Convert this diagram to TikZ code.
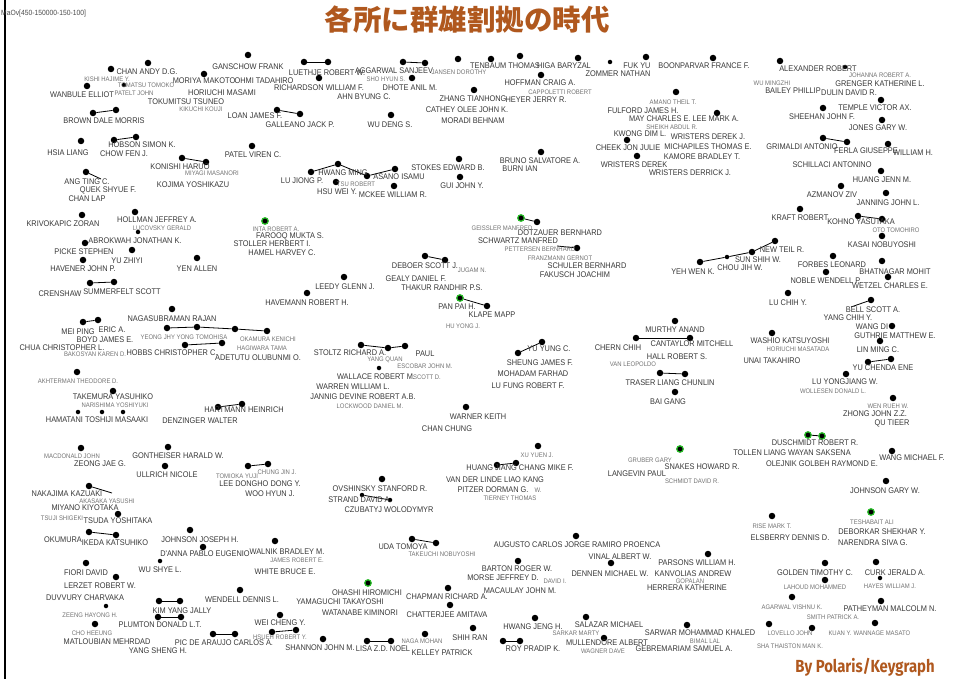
\documentclass[tikz,border=0pt]{standalone}
\usepackage{fontspec}
\newfontfamily\lbf[FakeStretch=0.9]{Liberation Sans}
\newfontfamily\cjk{Noto Sans CJK JP}
\newfontfamily\credf[FakeStretch=0.85]{Fira Sans}
\newcommand\lbfont{\lbf\fontsize{8.2}{9}\selectfont}
\newcommand\slbfont{\lbf\fontsize{6.6}{7}\selectfont}
\definecolor{titlebrown}{RGB}{176,88,30}
\definecolor{dotgreen}{RGB}{40,190,40}
\newcounter{lc}
\newcommand\dt[3]{\node[dot] (#1) at (#2,#3) {};}
\newcommand\sd[3]{\node[sdot] (#1) at (#2,#3) {};}
\newcommand\gd[3]{\node[gdot] (#1) at (#2,#3) {};}
\newcommand\lab[3]{\stepcounter{lc}\node[lbl] (t\arabic{lc}) at (#1,#2) {#3};}
\newcommand\slab[3]{\stepcounter{lc}\node[slbl] (t\arabic{lc}) at (#1,#2) {#3};}
\tikzset{
 dot/.style={circle,fill=black,inner sep=0pt,minimum size=6.5pt},
 sdot/.style={circle,fill=black,inner sep=0pt,minimum size=4.5pt},
 gdot/.style={circle,fill=black,draw=dotgreen,line width=1.2pt,inner sep=0pt,minimum size=6.5pt},
 lbl/.style={font=\lbfont,text=black!78,inner sep=0pt},
 slbl/.style={font=\slbfont,text=black!55,inner sep=0pt},
 link/.style={draw=black,line width=0.8pt}
}
\begin{document}
\begin{tikzpicture}[x=1pt,y=-1pt]
\useasboundingbox (0,0) rectangle (953,679);
\fill[white] (0,0) rectangle (953,679);
\draw[line width=2pt] (5,0) -- (5,679);
\node[anchor=west,font=\lbf\fontsize{7.5}{8}\selectfont,text=black!70,inner sep=0pt] (hdr) at (1,14) {MaOv[450-150000-150-100]};
\node[font=\cjk\bfseries\fontsize{28.5}{30}\selectfont,text=titlebrown,inner sep=0pt] (title) at (467,20) {各所に群雄割拠の時代};
\node[font=\credf\bfseries\fontsize{17.5}{19}\selectfont,text=titlebrown,inner sep=0pt] (credit) at (865,667) {By Polaris/Keygraph};
% ---------- dots ----------
\dt{a1}{148}{63}\dt{a2}{111}{69}\dt{a3}{87}{86}\sd{a4}{124}{85}\dt{a5}{204}{74}
\dt{a6}{93}{113}\dt{a7}{116}{110}\dt{a8}{81}{141}\dt{a9}{114}{140}\dt{a10}{136}{137}
\dt{a11}{182}{158}\dt{a12}{206}{162}\dt{a13}{86}{172}\dt{a14}{82}{215}\dt{a15}{135}{212}
\sd{a16}{138}{232}\dt{a17}{85}{243}\dt{a18}{132}{250}\dt{a19}{252}{146}
\dt{b1}{248}{55}\dt{b2}{304}{62}\dt{b3}{328}{62}\dt{b4}{319}{78}\dt{b5}{403}{62}
\dt{b6}{425}{63}\dt{b7}{412}{78}\dt{b8}{458}{59}\dt{b9}{474}{90}\dt{b10}{277}{110}
\dt{b11}{300}{114}\dt{b12}{391}{115}\dt{b13}{338}{164}\dt{b14}{311}{172}\dt{b15}{367}{176}
\dt{b16}{395}{169}\dt{b17}{336}{182}\dt{b18}{394}{186}\dt{b19}{459}{159}\dt{b20}{460}{177}
\gd{b21}{265}{221}
\dt{c1}{491}{59}\dt{c2}{520}{56}\dt{c3}{578}{58}\sd{c4}{610}{62}\dt{c5}{646}{57}
\dt{c6}{713}{58}\dt{c7}{541}{75}\dt{c8}{676}{92}\dt{c9}{717}{113}\dt{c10}{627}{140}
\dt{c11}{637}{156}\dt{c12}{541}{152}\gd{c13}{521}{218}\dt{c14}{537}{222}\dt{c15}{577}{248}
\dt{e1}{780}{61}\sd{e2}{845}{67}\dt{e3}{881}{100}\dt{e4}{823}{108}\dt{e5}{882}{120}
\dt{e6}{823}{138}\dt{e7}{847}{142}\dt{e8}{888}{144}\dt{e9}{881}{171}\dt{e10}{841}{186}
\dt{e11}{886}{193}\dt{e12}{800}{209}\dt{e13}{858}{216}\dt{e14}{882}{219}\dt{e15}{882}{236}
\dt{e16}{775}{241}
\dt{f1}{83}{260}\dt{f2}{197}{258}\dt{f3}{90}{283}\dt{f4}{114}{282}\dt{f5}{172}{309}
\dt{f6}{83}{322}\dt{f7}{98}{320}\dt{f8}{167}{328}\dt{f9}{197}{327}\dt{f10}{235}{329}
\dt{f11}{185}{345}\dt{f12}{222}{343}\dt{f13}{77}{372}\dt{f14}{113}{391}\sd{f15}{78}{412}
\sd{f16}{102}{412}\sd{f17}{123}{412}\dt{f18}{218}{407}\dt{f19}{242}{404}\dt{f20}{81}{448}
\dt{f21}{168}{447}
\dt{g1}{425}{256}\dt{g2}{445}{260}\dt{g3}{344}{277}\dt{g4}{307}{293}\gd{g5}{460}{298}
\dt{g6}{267}{331}\dt{g7}{361}{345}\dt{g8}{388}{348}\dt{g9}{405}{346}\sd{g10}{379}{368}
\dt{g11}{466}{407}
\dt{h1}{700}{262}\sd{h2}{727}{257}\dt{h3}{752}{252}\dt{h4}{487}{306}\dt{h5}{542}{342}
\dt{h6}{518}{353}\dt{h7}{675}{321}\dt{h8}{636}{338}\dt{h9}{690}{338}\dt{h10}{660}{373}
\dt{h11}{685}{374}\dt{h12}{675}{392}\dt{h13}{538}{446}\gd{h14}{680}{449}
\dt{i1}{833}{256}\dt{i2}{882}{261}\dt{i3}{826}{272}\dt{i4}{888}{277}\dt{i5}{788}{293}
\dt{i6}{871}{300}\dt{i7}{892}{326}\dt{i8}{880}{341}\dt{i9}{868}{362}\dt{i10}{891}{359}
\dt{i11}{846}{374}\dt{i12}{772}{333}\dt{i13}{893}{398}\gd{i14}{808}{435}\gd{i15}{822}{436}
\dt{i16}{892}{451}
\dt{j1}{165}{466}\dt{j2}{89}{486}\dt{j3}{118}{514}\dt{j4}{89}{532}\dt{j5}{116}{535}
\dt{j6}{190}{530}\dt{j7}{203}{547}\sd{j8}{160}{561}\dt{j9}{86}{563}\dt{j10}{116}{577}
\sd{j11}{106}{606}\dt{j12}{159}{601}\dt{j13}{180}{601}\dt{j14}{158}{617}\dt{j15}{181}{617}
\dt{j16}{95}{624}\dt{j17}{213}{634}\dt{j18}{235}{634}\dt{j19}{240}{590}
\dt{k1}{248}{466}\dt{k2}{268}{464}\dt{k3}{382}{479}\sd{k4}{362}{495}\sd{k5}{390}{500}
\dt{k6}{412}{539}\dt{k7}{436}{543}\dt{k8}{275}{541}\gd{k9}{368}{583}\dt{k10}{448}{588}
\dt{k11}{450}{605}\dt{k12}{280}{615}\dt{k13}{272}{632}\dt{k14}{296}{630}\dt{k15}{323}{639}
\dt{k16}{367}{641}\dt{k17}{391}{641}\dt{k18}{425}{634}\dt{k19}{473}{628}
\dt{m1}{497}{465}\dt{m2}{516}{463}\dt{m3}{576}{536}\dt{m4}{611}{563}\dt{m5}{518}{561}
\dt{m6}{708}{554}\dt{m7}{535}{618}\dt{m8}{586}{617}\dt{m9}{687}{625}\dt{m10}{520}{641}
\dt{m11}{503}{641}\dt{m12}{604}{638}
\dt{n1}{886}{481}\dt{n2}{772}{516}\gd{n3}{871}{512}\dt{n4}{825}{563}\dt{n5}{876}{562}
\dt{n6}{825}{580}\sd{n7}{880}{578}\dt{n8}{792}{597}\dt{n9}{881}{601}\dt{n10}{769}{624}
\dt{n11}{812}{628}\dt{n12}{875}{623}
\coordinate (x1) at (112,493);
\coordinate (x2) at (101,179);
\coordinate (x3) at (557,246);
\coordinate (x4) at (851,307);
% ---------- links ----------
\foreach \p/\q in {a6/a7,a9/a10,a11/a12,b2/b3,b10/b11,b13/b14,b13/b15,b15/b16,b5/b6,
 e6/e7,e13/e14,f3/f4,f6/f7,f8/f9,f9/f10,f10/g6,f11/f12,f18/f19,g1/g2,g7/g8,g8/g9,
 c13/c14,c15/x3,h5/h6,h8/h9,h10/h11,i9/i10,i14/i15,j4/j5,j12/j13,j14/j15,j17/j18,
 k1/k2,k4/k5,k6/k7,k13/k14,k16/k17,m1/m2,m10/m11,h1/h2,h2/h3,h3/e16,j2/x1,a13/x2,
 g5/h4,i6/x4}
 \draw[link] (\p) -- (\q);
% ---------- labels: upper left ----------
\lab{147}{72}{CHAN ANDY D.G.}
\slab{107}{79}{KISHI HAJIME Y.}
\lab{82}{95}{WANBULE ELLIOT}
\slab{134}{93}{PATELT JOHN}
\slab{146}{85}{TOMATSU TOMOKO}
\lab{204}{81}{MORIYA MAKOTO}
\lab{222}{93}{HORIUCHI MASAMI}
\lab{186}{102}{TOKUMITSU TSUNEO}
\slab{201}{109}{KIKUCHI KOUJI}
\lab{104}{121}{BROWN DALE MORRIS}
\lab{68}{153}{HSIA LIANG}
\lab{124}{154}{CHOW FEN J.}
\lab{142}{145}{HOBSON SIMON K.}
\lab{180}{167}{KONISHI HARUO}
\slab{212}{173}{MIYAGI MASANORI}
\lab{193}{185}{KOJIMA YOSHIKAZU}
\lab{87}{182}{ANG TING C.}
\lab{108}{190}{QUEK SHYUE F.}
\lab{87}{199}{CHAN LAP}
\lab{63}{224}{KRIVOKAPIC ZORAN}
\lab{157}{220}{HOLLMAN JEFFREY A.}
\slab{162}{228}{LUCOVSKY GERALD}
\lab{135}{241}{ABROKWAH JONATHAN K.}
\lab{84}{252}{PICKE STEPHEN}
\lab{253}{155}{PATEL VIREN C.}
% ---------- upper middle ----------
\lab{248}{67}{GANSCHOW FRANK}
\lab{327}{73}{LUETHJE ROBERT W.}
\lab{264}{81}{OHMI TADAHIRO}
\slab{386}{79}{SHO HYUN S.}
\lab{319}{88}{RICHARDSON WILLIAM F.}
\lab{394}{71}{AGGARWAL SANJEEV}
\lab{410}{88}{DHOTE ANIL M.}
\slab{459}{72}{JANSEN DOROTHY}
\lab{364}{97}{AHN BYUNG C.}
\lab{473}{99}{ZHANG TIANHONG}
\lab{467}{110}{CATHEY OLEE JOHN K.}
\lab{473}{121}{MORADI BEHNAM}
\lab{255}{116}{LOAN JAMES F.}
\lab{300}{125}{GALLEANO JACK P.}
\lab{390}{125}{WU DENG S.}
\lab{343}{173}{HWANG MING}
\lab{302}{181}{LU JIONG P.}
\slab{356}{184}{TSU ROBERT}
\lab{399}{177}{ASANO ISAMU}
\lab{337}{192}{HSU WEI Y.}
\lab{393}{195}{MCKEE WILLIAM R.}
\lab{448}{168}{STOKES EDWARD B.}
\lab{462}{186}{GUI JOHN Y.}
\slab{276}{229}{INTA ROBERT A.}
\lab{290}{236}{FAROOQ MUKTA S.}
\lab{272}{244}{STOLLER HERBERT I.}
\lab{282}{253}{HAMEL HARVEY C.}
% ---------- upper right-middle ----------
\lab{505}{66}{TENBAUM THOMAS}
\lab{564}{66}{HIGA BARYZAL}
\lab{618}{74}{ZOMMER NATHAN}
\lab{637}{66}{FUK YU}
\lab{704}{66}{BOONPARVAR FRANCE F.}
\lab{540}{83}{HOFFMAN CRAIG A.}
\slab{560}{92}{CAPPOLETTI ROBERT}
\lab{536}{100}{HEYER JERRY R.}
\slab{673}{102}{AMANO THEIL T.}
\lab{643}{111}{FULFORD JAMES H.}
\lab{684}{119}{MAY CHARLES E. LEE MARK A.}
\slab{672}{127}{SHEIKH ABDUL R.}
\lab{640}{134}{KWONG DIM L.}
\lab{708}{137}{WRISTERS DEREK J.}
\lab{628}{148}{CHEEK JON JULIE}
\lab{708}{147}{MICHAPILES THOMAS E.}
\lab{702}{157}{KAMORE BRADLEY T.}
\lab{634}{165}{WRISTERS DEREK}
\lab{690}{173}{WRISTERS DERRICK J.}
\lab{540}{161}{BRUNO SALVATORE A.}
\lab{520}{169}{BURN IAN}
\slab{502}{228}{GEISSLER MANFRED}
\lab{560}{233}{DOTZAUER BERNHARD}
\lab{518}{241}{SCHWARTZ MANFRED}
\slab{540}{249}{PETTERSEN BERNHARD}
% ---------- upper right ----------
\lab{818}{69}{ALEXANDER ROBERT}
\slab{880}{75}{JOHANNA ROBERT A.}
\slab{772}{83}{WU MINGZHI}
\lab{880}{84}{GRENGER KATHERINE L.}
\lab{793}{91}{BAILEY PHILLIP}
\lab{849}{93}{DULIN DAVID R.}
\lab{875}{108}{TEMPLE VICTOR AX.}
\lab{822}{117}{SHEEHAN JOHN F.}
\lab{878}{128}{JONES GARY W.}
\lab{802}{147}{GRIMALDI ANTONIO}
\lab{866}{151}{FERLA GIUSEPPE}
\lab{913}{153}{WILLIAM H.}
\lab{832}{165}{SCHILLACI ANTONINO}
\lab{882}{180}{HUANG JENN M.}
\lab{832}{195}{AZMANOV ZIV}
\lab{888}{203}{JANNING JOHN L.}
\lab{800}{218}{KRAFT ROBERT}
\lab{861}{222}{KOHNO YASUTAKA}
\slab{896}{230}{OTO TOMOHIRO}
\lab{882}{245}{KASAI NOBUYOSHI}
\lab{782}{250}{NEW TEIL R.}
% ---------- middle left ----------
\lab{127}{261}{YU ZHIYI}
\lab{83}{269}{HAVENER JOHN P.}
\lab{197}{269}{YEN ALLEN}
\lab{60}{294}{CRENSHAW}
\lab{122}{292}{SUMMERFELT SCOTT}
\lab{172}{319}{NAGASUBRAMAN RAJAN}
\lab{78}{332}{MEI PING}
\lab{112}{330}{ERIC A.}
\lab{105}{340}{BOYD JAMES E.}
\lab{62}{348}{CHUA CHRISTOPHER L.}
\slab{95}{354}{BAKOSYAN KAREN D.}
\slab{184}{337}{YEONG JHY YONG TOMOHISA}
\slab{268}{339}{OKAMURA KENICHI}
\lab{172}{353}{HOBBS CHRISTOPHER C.}
\slab{262}{348}{HAGIWARA TAMA}
\lab{258}{358}{ADETUTU OLUBUNMI O.}
\slab{78}{381}{AKHTERMAN THEODORE D.}
\lab{113}{397}{TAKEMURA YASUHIKO}
\slab{115}{405}{NARISHIMA YOSHIYUKI}
\lab{97}{420}{HAMATANI TOSHIJI MASAAKI}
\lab{244}{410}{HARTMANN HEINRICH}
\lab{200}{421}{DENZINGER WALTER}
\slab{72}{456}{MACDONALD JOHN}
\lab{178}{456}{GONTHEISER HARALD W.}
\lab{100}{464}{ZEONG JAE G.}
% ---------- centre ----------
\lab{425}{266}{DEBOER SCOTT J.}
\slab{472}{270}{JUGAM N.}
\lab{416}{279}{GEALY DANIEL F.}
\lab{442}{288}{THAKUR RANDHIR P.S.}
\lab{345}{287}{LEEDY GLENN J.}
\lab{307}{303}{HAVEMANN ROBERT H.}
\lab{457}{307}{PAN PAI H.}
\lab{492}{315}{KLAPE MAPP}
\slab{463}{326}{HU YONG J.}
\lab{350}{353}{STOLTZ RICHARD A.}
\lab{425}{354}{PAUL}
\slab{385}{360}{YANG QUAN}
\slab{425}{366}{ESCOBAR JOHN M.}
\lab{376}{377}{WALLACE ROBERT M.}
\slab{427}{377}{SCOTT D.}
\lab{353}{387}{WARREN WILLIAM L.}
\lab{363}{397}{JANNIG DEVINE ROBERT A.B.}
\slab{370}{406}{LOCKWOOD DANIEL M.}
\lab{478}{417}{WARNER KEITH}
\lab{447}{429}{CHAN CHUNG}
\slab{560}{258}{FRANZMANN GERNOT}
\lab{587}{266}{SCHULER BERNHARD}
\lab{575}{275}{FAKUSCH JOACHIM}
\lab{693}{272}{YEH WEN K.}
\lab{549}{349}{YU YUNG C.}
\lab{540}{363}{SHEUNG JAMES F.}
\lab{533}{374}{MOHADAM FARHAD}
\lab{528}{386}{LU FUNG ROBERT F.}
\lab{675}{330}{MURTHY ANAND}
\lab{618}{348}{CHERN CHIH}
\lab{692}{344}{CANTAYLOR MITCHELL}
\lab{677}{357}{HALL ROBERT S.}
\slab{633}{364}{VAN LEOPOLDO}
\lab{670}{383}{TRASER LIANG CHUNLIN}
\lab{668}{402}{BAI GANG}
\slab{537}{455}{XU YUEN J.}
% ---------- middle right ----------
\lab{758}{260}{SUN SHIH W.}
\lab{740}{268}{CHOU JIH W.}
\lab{832}{265}{FORBES LEONARD}
\lab{895}{272}{BHATNAGAR MOHIT}
\lab{826}{281}{NOBLE WENDELL P.}
\lab{890}{286}{WETZEL CHARLES E.}
\lab{788}{303}{LU CHIH Y.}
\lab{873}{310}{BELL SCOTT A.}
\lab{848}{318}{YANG CHIH Y.}
\lab{872}{327}{WANG DI}
\lab{895}{336}{GUTHRIE MATTHEW E.}
\lab{878}{350}{LIN MING C.}
\lab{883}{368}{YU CHENDA ENE}
\lab{845}{382}{LU YONGJIANG W.}
\slab{833}{391}{WOLLESEN DONALD L.}
\lab{790}{341}{WASHIO KATSUYOSHI}
\slab{798}{349}{HORIUCHI MASATADA}
\lab{772}{361}{UNAI TAKAHIRO}
\slab{888}{406}{WEN RUEH W.}
\lab{875}{414}{ZHONG JOHN Z.Z.}
\lab{892}{423}{QU TIEER}
\lab{815}{443}{DUSCHMIDT ROBERT R.}
\lab{792}{453}{TOLLEN LIANG WAYAN SAKSENA}
\lab{912}{458}{WANG MICHAEL F.}
\lab{822}{464}{OLEJNIK GOLBEH RAYMOND E.}
\slab{650}{460}{GRUBER GARY}
\lab{702}{467}{SNAKES HOWARD R.}
\lab{637}{474}{LANGEVIN PAUL}
\slab{692}{481}{SCHMIDT DAVID R.}
% ---------- lower left ----------
\lab{167}{475}{ULLRICH NICOLE}
\lab{67}{494}{NAKAJIMA KAZUAKI}
\slab{107}{501}{AKASAKA YASUSHI}
\lab{85}{508}{MIYANO KIYOTAKA}
\slab{62}{518}{TSUJI SHIGEKI}
\lab{118}{521}{TSUDA YOSHITAKA}
\lab{63}{540}{OKUMURA}
\lab{115}{543}{IKEDA KATSUHIKO}
\lab{200}{540}{JOHNSON JOSEPH H.}
\lab{205}{554}{D'ANNA PABLO EUGENIO}
\lab{160}{570}{WU SHYE L.}
\lab{86}{573}{FIORI DAVID}
\lab{100}{586}{LERZET ROBERT W.}
\lab{85}{598}{DUVVURY CHARVAKA}
\slab{90}{615}{ZEENG HAYONG H.}
\lab{182}{611}{KIM YANG JALLY}
\lab{160}{625}{PLUMTON DONALD L.T.}
\slab{92}{633}{CHO HEEUNG}
\lab{107}{642}{MATLOUBIAN MEHRDAD}
\lab{158}{651}{YANG SHENG H.}
\lab{224}{643}{PIC DE ARAUJO CARLOS A.}
\lab{242}{600}{WENDELL DENNIS L.}
% ---------- lower middle ----------
\slab{277}{472}{CHUNG JIN J.}
\slab{237}{476}{TOMIOKA YUJI}
\lab{260}{484}{LEE DONGHO DONG Y.}
\lab{270}{494}{WOO HYUN J.}
\lab{380}{489}{OVSHINSKY STANFORD R.}
\lab{360}{500}{STRAND DAVID A.}
\lab{389}{510}{CZUBATYJ WOLODYMYR}
\lab{403}{547}{UDA TOMOYA}
\slab{442}{554}{TAKEUCHI NOBUYOSHI}
\lab{287}{552}{WALNIK BRADLEY M.}
\slab{297}{560}{JAMES ROBERT E.}
\lab{285}{572}{WHITE BRUCE E.}
\lab{367}{593}{OHASHI HIROMICHI}
\lab{340}{602}{YAMAGUCHI TAKAYOSHI}
\lab{360}{613}{WATANABE KIMINORI}
\lab{447}{597}{CHAPMAN RICHARD A.}
\lab{447}{615}{CHATTERJEE AMITAVA}
\lab{280}{623}{WEI CHENG Y.}
\slab{280}{637}{HSUEH ROBERT Y.}
\lab{320}{648}{SHANNON JOHN M.}
\lab{383}{649}{LISA Z.D. NOEL}
\slab{422}{641}{NAGA MOHAN}
\lab{442}{653}{KELLEY PATRICK}
\lab{470}{638}{SHIH RAN}
\lab{520}{468}{HUANG JIANG CHANG MIKE F.}
\lab{495}{480}{VAN DER LINDE LIAO KANG}
\lab{493}{490}{PITZER DORMAN G.}
\slab{538}{490}{W.}
\slab{510}{498}{TIERNEY THOMAS}
\lab{577}{545}{AUGUSTO CARLOS JORGE RAMIRO PROENCA}
\lab{620}{557}{VINAL ALBERT W.}
\lab{610}{574}{DENNEN MICHAEL W.}
\lab{517}{569}{BARTON ROGER W.}
\lab{503}{578}{MORSE JEFFREY D.}
\slab{555}{581}{DAVID I.}
\lab{520}{591}{MACAULAY JOHN M.}
\lab{697}{563}{PARSONS WILLIAM H.}
\lab{693}{574}{KANVOLIAS ANDREW}
\slab{690}{581}{GOPALAN}
\lab{687}{588}{HERRERA KATHERINE}
\lab{533}{627}{HWANG JENG H.}
\lab{609}{625}{SALAZAR MICHAEL}
\slab{576}{633}{SARKAR MARTY}
\lab{700}{633}{SARWAR MOHAMMAD KHALED}
\lab{533}{649}{ROY PRADIP K.}
\lab{607}{643}{MULLENDORE ALBERT}
\slab{603}{651}{WAGNER DAVE}
\slab{705}{641}{BIMAL LAL}
\lab{684}{649}{GEBREMARIAM SAMUEL A.}
% ---------- lower right ----------
\lab{885}{491}{JOHNSON GARY W.}
\slab{772}{526}{RISE MARK T.}
\lab{790}{538}{ELSBERRY DENNIS D.}
\slab{872}{522}{TESHABAIT ALI}
\lab{882}{532}{DEBORKAR SHEKHAR Y.}
\lab{873}{543}{NARENDRA SIVA G.}
\lab{815}{573}{GOLDEN TIMOTHY C.}
\lab{895}{573}{CURK JERALD A.}
\slab{815}{587}{LAHOUD MOHAMMED}
\slab{890}{586}{HAYES WILLIAM J.}
\slab{792}{607}{AGARWAL VISHNU K.}
\lab{890}{609}{PATHEYMAN MALCOLM N.}
\slab{833}{617}{SMITH PATRICK A.}
\slab{790}{633}{LOVELLO JOHN}
\slab{840}{633}{KUAN Y.}
\slab{882}{633}{WANNAGE MASATO}
\slab{790}{646}{SHA THAISTON MAN K.}
\end{tikzpicture}
\end{document}
